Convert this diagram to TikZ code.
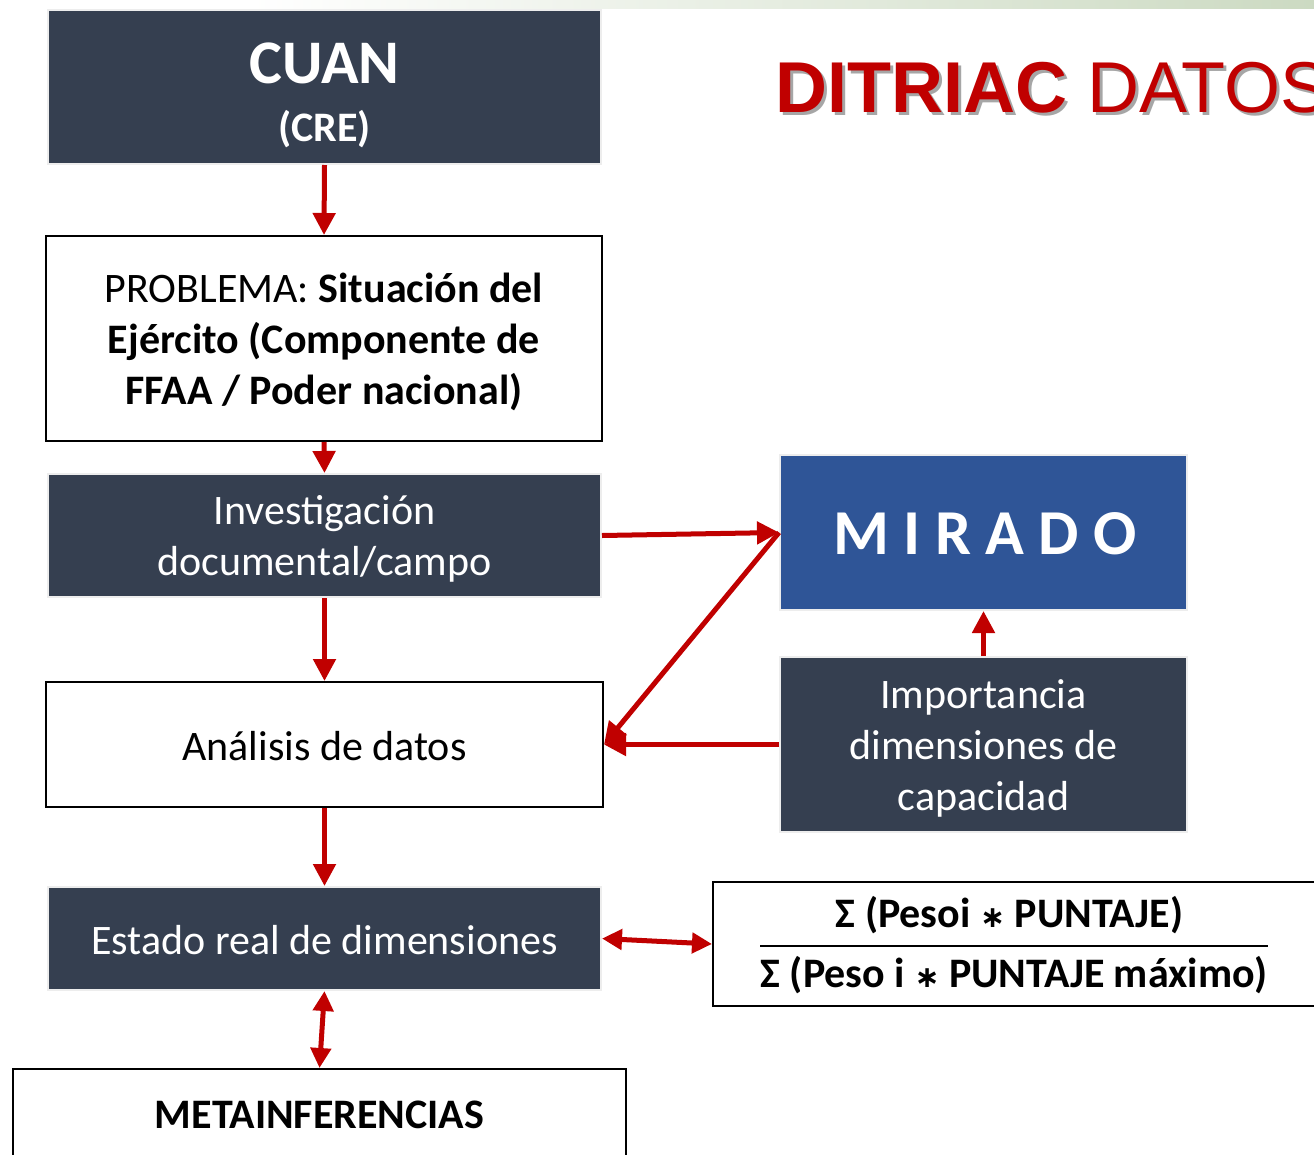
\documentclass[tikz,border=0pt]{standalone}
\usepackage{fontspec}
\setmainfont{Carlito}
\newfontfamily\arialf{Liberation Sans}
\newfontfamily\djv{DejaVu Sans}
\usetikzlibrary{arrows.meta}
\definecolor{darkbg}{RGB}{53,63,80}
\definecolor{mblue}{RGB}{47,85,151}
\definecolor{ared}{RGB}{192,0,0}
\definecolor{gbar}{RGB}{204,218,194}
\begin{document}
\begin{tikzpicture}[x=1pt,y=-1pt,
  darkbox/.style={fill=darkbg, draw=black!7, line width=2pt, text=white, align=center, inner sep=0pt},
  bluebox/.style={fill=mblue, draw=black!7, line width=2pt, text=white, align=center, inner sep=0pt},
  whitebox/.style={fill=white, draw=black, line width=2pt, align=center, inner sep=0pt},
  body/.style={font=\fontsize{42}{51}\selectfont, align=center, inner sep=0pt},
  arr/.style={draw=ared, line width=5pt, -{Triangle[length=22pt,width=22pt]}},
  darr/.style={draw=ared, line width=5pt, {Triangle[length=20pt,width=20pt]}-{Triangle[length=20pt,width=20pt]}},
  ttl/.style={anchor=base west, inner sep=0pt, font=\arialf\fontsize{72}{72}\selectfont}]
\useasboundingbox (0,0) rectangle (1314,1154);
\clip (0,0) rectangle (1314,1154);
\fill[white] (0,0) rectangle (1314,1154);
\shade[left color=white, right color=gbar] (250,0) rectangle (1314,8);

% title
\node[ttl, text=black!35] (tshadow) at (778,115) {\textbf{DITRIAC} DATOS};
\node[ttl, text=ared] (title) at (775,112) {\textbf{DITRIAC} DATOS};

% left column
\node[darkbox, minimum width=553pt, minimum height=154pt] (cuan) at (324.5,87) {};
\node[anchor=base, inner sep=0pt, text=white, font=\bfseries\fontsize{62}{62}\selectfont] (cuant) at (324.5,83) {CUAN};
\node[anchor=base, inner sep=0pt, text=white, font=\bfseries\fontsize{42}{42}\selectfont] (cret) at (324.5,141) {(CRE)};

\node[whitebox, minimum width=556pt, minimum height=205pt] (prob) at (324,338.5) {};
\node[body] (probt) at (324,341.5)
  {PROBLEMA: \textbf{Situación del}\\ \textbf{Ejército (Componente de}\\ \textbf{FFAA / Poder nacional)}};

\node[darkbox, minimum width=553pt, minimum height=123pt] (inv) at (324.5,535.5) {};
\node[body, text=white] (invt) at (324.5,538.5) {Investigación\\ documental/campo};

\node[whitebox, minimum width=557pt, minimum height=125pt] (anal) at (324.5,744.5) {};
\node[body] (analt) at (324.5,746) {Análisis de datos};

\node[darkbox, minimum width=553pt, minimum height=103pt] (est) at (324.5,938.5) {};
\node[body, text=white] (estt) at (324.5,940) {Estado real de dimensiones};

\node[whitebox, minimum width=613pt, minimum height=92pt] (meta) at (319.5,1115) {};
\node[body, font=\bfseries\fontsize{42}{51}\selectfont] (metat) at (319.5,1115) {METAINFERENCIAS};

% right column
\node[bluebox, minimum width=407pt, minimum height=155pt] (mirado) at (983.5,532.5) {};
\node[body, text=white, font=\bfseries\fontsize{64}{64}\selectfont] (miradot) at (985,534) {M I R A D O};

\node[darkbox, minimum width=407pt, minimum height=175pt] (imp) at (983.5,744.5) {};
\node[body, text=white] (impt) at (983.5,748.5) {Importancia\\ dimensiones de\\ capacidad};

\node[whitebox, minimum width=617pt, minimum height=124pt] (form) at (1021.5,944) {};
\node[body, font=\bfseries\fontsize{42}{51}\selectfont] (num) at (1009.5,915) {Σ (Pesoi {\djv\fontsize{30}{30}\selectfont ∗} PUNTAJE)};
\node[body, font=\bfseries\fontsize{42}{51}\selectfont] (den) at (1014,975) {Σ (Peso i {\djv\fontsize{30}{30}\selectfont ∗} PUNTAJE máximo)};
\coordinate (fl) at (760,946);
\coordinate (fr) at (1268,946);
\draw[line width=2pt] (fl) -- (fr);

% connectors
\draw[arr] (cuan.south) -- (prob.north);
\draw[arr] (prob.south) -- (inv.north);
\draw[arr] (inv.south) -- (anal.north);
\draw[arr] (anal.south) -- (est.north);
\draw[darr] (est.south) -- (meta.north);
\draw[darr] (est.east) -- (form.west);
\draw[arr] (inv.east) -- (mirado.west);
\draw[arr] (mirado.west) -- (anal.east);
\draw[arr] (imp.west) -- (anal.east);
\draw[arr] (imp.north) -- (mirado.south);
\end{tikzpicture}
\end{document}
